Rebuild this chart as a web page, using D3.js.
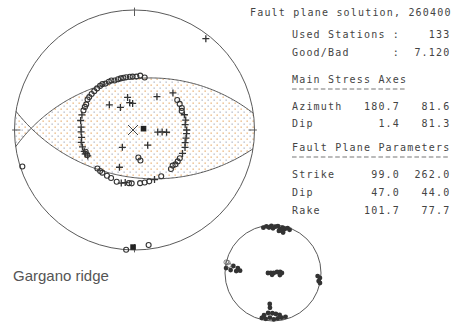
<!DOCTYPE html>
<html><head><meta charset="utf-8">
<script src="https://cdn.jsdelivr.net/npm/d3@7"></script>
<style>body{margin:0;background:#fff}svg{display:block}</style>
</head><body><svg id="c" width="457" height="324"></svg>
<script>
// ---------- data ----------
const title = "Fault plane solution, 260400";
const usedStations = "133";
const goodBad = "7.120";
const axisNames = ["Azimuth", "Dip"];
const stressAzimuth = [180.7, 81.6];   // P, T
const stressDip = [1.4, 81.3];
const faultParamNames = ["Strike", "Dip", "Rake"];
const faultStrike = [99.0, 262.0];
const faultDip = [47.0, 44.0];
const faultRake = [101.7, 77.7];
const regionLabel = "Gargano ridge";

// first motions: [azimuth, takeoff angle]
const compressions = [
  [38,88],[315,33],[328,25],[348,31],[350,26],[356,25],[34,37],[46,48],
  [95,22],[94,26],[94,30],[139,19],[215,20],[202,37],
  [286,49],[280,49],[273,48],[268,48],[262,48],[257,49],[252,49],[247,49],[244,49],[241,48],
  [73,47],[79,47],[84,46],[90,47],[94,47],[99,47],[104,47],[109,48],[116,48],
  [194,49],[158,48],[190,48]
];
const dilatations = [
  [358,48],[2,48],[6,49],[11,48],[355,48],[351,48],[348,48],[345,48],[342,48],[338,48],
  [335,49],[332,49],[328,49],[325,50],[322,50],[318,50],[314,50],[310,50],[306,50],[303,50],
  [298,49],[295,49],[291,49],
  [55,47],[60,47],[65,47],[68,46],
  [122,48],[126,48],[130,48],[133,47],[137,48],
  [150,48],[164,48],[169,48],[174,48],[183,48],[186,48],[199,49],[206,48],[211,48],[217,48],[220,48],[224,48],
  [172,26],[169,29],[252,89],[184,90],[173,88],[246,48],[242,48]
];
// bootstrap axes (small net): [azimuth, takeoff]
const bootstrapFilled = [
  [348,88],[352,89],[355,87],[358,89],[0,86],[3,88],[6,89],[9,86],[12,88],[15,87],[18,89],[21,88],[8,83],[12,84],[14,82],
  [280,80],[278,73],[274,69],[273,75],[274,83],[276,89],
  [270,12],[270,5],[90,2],[76,10],[82,17],[90,21],[106,17],[207,5],
  [96,89],[100,88],[102,90],[94,86],
  [194,88],[189,88],[184,86],[179,88],[174,87],[169,87],[164,87],[187,80],[181,80],[176,81],[185,72],[186,66],[192,84],[171,83]
];
const bootstrapOpen = [[283,88],[280,86],[283,90]];

// ---------- geometry ----------
const rad = Math.PI/180;
const svg = d3.select("#c");
const big = {cx:134.5, cy:130, R:120};
const small = {cx:273, cy:273, R:48};
function scales(n){
  return {
    x: d3.scaleLinear().domain([-1,1]).range([n.cx-n.R, n.cx+n.R]),
    y: d3.scaleLinear().domain([-1,1]).range([n.cy+n.R, n.cy-n.R])
  };
}
const S1 = scales(big), S2 = scales(small);
function projAT(az, to){ const r = Math.tan(to*rad/2); return [r*Math.sin(az*rad), r*Math.cos(az*rad)]; }
function projVec(v){ return [v[0]/(1+v[2]), v[1]/(1+v[2])]; }
function vecTP(tr, pl){ return [Math.cos(pl*rad)*Math.sin(tr*rad), Math.cos(pl*rad)*Math.cos(tr*rad), Math.sin(pl*rad)]; }
function planeCurve(s, d){
  const S = [Math.sin(s*rad), Math.cos(s*rad), 0];
  const D = [Math.cos(d*rad)*Math.sin((s+90)*rad), Math.cos(d*rad)*Math.cos((s+90)*rad), Math.sin(d*rad)];
  return d3.range(0, 180.01, 1).map(t => {
    const c = Math.cos(t*rad), sn = Math.sin(t*rad);
    return projVec([c*S[0]+sn*D[0], c*S[1]+sn*D[1], c*S[2]+sn*D[2]]);
  });
}
function poleVec(s, d){ return vecTP(s-90, 90-d); }
function halfDisc(s, d, sgn){
  const pts = planeCurve(s, d);
  d3.range(0, 180.01, 2).forEach(a => { const az = s+180+sgn*a; pts.push([Math.sin(az*rad), Math.cos(az*rad)]); });
  return pts;
}
const line1 = d3.line().x(p=>S1.x(p[0])).y(p=>S1.y(p[1]));

// ---------- shading ----------
const defs = svg.append("defs");
const pat = defs.append("pattern").attr("id","dots").attr("patternUnits","userSpaceOnUse").attr("width",6).attr("height",6);
pat.append("rect").attr("x",0.5).attr("y",0.5).attr("width",1.3).attr("height",1.3).attr("fill","#e6ad70");
pat.append("rect").attr("x",3.5).attr("y",3.5).attr("width",1.3).attr("height",1.3).attr("fill","#aeb3c2");

const T = vecTP(stressAzimuth[1], stressDip[1]);
const dot = (a,b)=>a[0]*b[0]+a[1]*b[1]+a[2]*b[2];
const sg = [0,1].map(i => Math.sign(dot(poleVec(faultStrike[i], faultDip[i]), T)));
[1,-1].forEach((m, k) => {
  defs.append("clipPath").attr("id","cp"+k).append("path")
    .attr("d", line1(halfDisc(faultStrike[1], faultDip[1], m*sg[1]))+"Z");
  svg.append("g").attr("clip-path","url(#cp"+k+")").append("path")
    .attr("d", line1(halfDisc(faultStrike[0], faultDip[0], m*sg[0]))+"Z")
    .attr("fill","url(#dots)");
});

// ---------- big net ----------
svg.append("circle").attr("cx",big.cx).attr("cy",big.cy).attr("r",big.R)
  .attr("fill","none").attr("stroke","#5a5a5a").attr("stroke-width",1);
[0,90,180,270].forEach(az => {
  svg.append("line")
    .attr("x1",S1.x(0.95*Math.sin(az*rad))).attr("y1",S1.y(0.95*Math.cos(az*rad)))
    .attr("x2",S1.x(1.02*Math.sin(az*rad))).attr("y2",S1.y(1.02*Math.cos(az*rad)))
    .attr("stroke","#5a5a5a").attr("stroke-width",1);
});
faultStrike.forEach((s,i) => {
  svg.append("path").attr("d", line1(planeCurve(s, faultDip[i])))
    .attr("fill","none").attr("stroke","#555").attr("stroke-width",1);
});

const plusPath = "M-3.5,0H3.5M0,-3.5V3.5";
svg.append("g").selectAll("path").data(compressions).join("path")
  .attr("transform", d => { const p = projAT(d[0], d[1]); return `translate(${S1.x(p[0])},${S1.y(p[1])})`; })
  .attr("d", plusPath).attr("stroke","#333").attr("stroke-width",1.3).attr("fill","none");
svg.append("g").selectAll("circle").data(dilatations).join("circle")
  .attr("cx", d => S1.x(projAT(d[0], d[1])[0])).attr("cy", d => S1.y(projAT(d[0], d[1])[1]))
  .attr("r",2.5).attr("fill","none").attr("stroke","#333").attr("stroke-width",1.1);

// centre mark
svg.append("path").attr("transform",`translate(${S1.x(0)-1.5},${S1.y(0)})`)
  .attr("d","M-5,-5L5,5M-5,5L5,-5").attr("stroke","#444").attr("stroke-width",1).attr("fill","none");
// P and T axes
stressAzimuth.forEach((az,i) => {
  const p = projVec(vecTP(az, stressDip[i]));
  svg.append("rect").attr("x",S1.x(p[0])-2.8).attr("y",S1.y(p[1])-2.8).attr("width",5.6).attr("height",5.6).attr("fill","#222");
});

// ---------- small net ----------
svg.append("circle").attr("cx",small.cx).attr("cy",small.cy).attr("r",small.R)
  .attr("fill","none").attr("stroke","#5a5a5a").attr("stroke-width",1);
svg.append("g").selectAll("circle").data(bootstrapFilled).join("circle")
  .attr("cx", d => S2.x(projAT(d[0], d[1])[0])).attr("cy", d => S2.y(projAT(d[0], d[1])[1]))
  .attr("r",2.4).attr("fill","#333");
svg.append("g").selectAll("circle").data(bootstrapOpen).join("circle")
  .attr("cx", d => S2.x(projAT(d[0], d[1])[0])).attr("cy", d => S2.y(projAT(d[0], d[1])[1]))
  .attr("r",2.3).attr("fill","none").attr("stroke","#666").attr("stroke-width",0.8);

// ---------- label ----------
svg.append("text").attr("x",13).attr("y",281).text(regionLabel)
  .attr("font-family","Liberation Sans, Arial, sans-serif").attr("font-size",15).attr("fill","#555");

// ---------- info panel ----------
const cw = 7.2, x0 = 292;
const mono = t => t.attr("font-family","DejaVu Sans Mono, monospace").attr("font-size",10)
  .attr("letter-spacing",1.18).attr("fill","#444");
const colX = c => x0 + c*cw;
function put(str, col, y){ mono(svg.append("text").attr("x",colX(col)).attr("y",y).text(str)); }
function putEnd(str, endCol, y){ put(str, endCol - str.length, y); }
mono(svg.append("text").attr("x",250).attr("y",16).text(title));
put("Used Stations :", 0, 37.5); putEnd(usedStations, 22, 37.5);
put("Good/Bad", 0, 56); put(":", 14, 56); putEnd(goodBad, 22, 56);
put("Main Stress Axes", 0, 83);
svg.append("line").attr("x1",colX(0)).attr("x2",colX(16)-1.5).attr("y1",89).attr("y2",89)
  .attr("stroke","#777").attr("stroke-width",1.2).attr("stroke-dasharray","4.6,2.6");
const axY = [110, 127];
axisNames.forEach((n,i) => {
  put(n, 0, axY[i]);
  const vals = i===0 ? stressAzimuth : stressDip;
  putEnd(vals[0].toFixed(1), 15, axY[i]); putEnd(vals[1].toFixed(1), 22, axY[i]);
});
put("Fault Plane Parameters", 0, 151);
svg.append("line").attr("x1",colX(0)).attr("x2",colX(22)-1.5).attr("y1",157).attr("y2",157)
  .attr("stroke","#777").attr("stroke-width",1.2).attr("stroke-dasharray","4.6,2.6");
const fpY = [177.5, 196, 214];
[faultStrike, faultDip, faultRake].forEach((vals,i) => {
  put(faultParamNames[i], 0, fpY[i]);
  putEnd(vals[0].toFixed(1), 15, fpY[i]); putEnd(vals[1].toFixed(1), 22, fpY[i]);
});
</script></body></html>
